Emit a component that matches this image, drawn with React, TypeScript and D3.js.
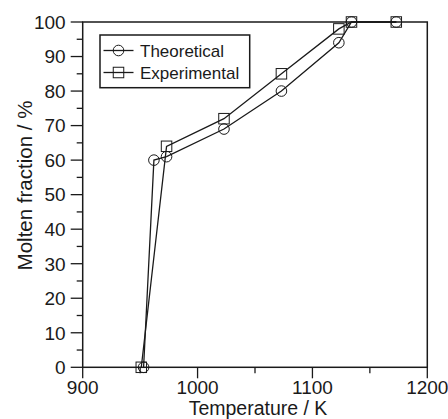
import React from "react";
import * as d3 from "d3";

const theoT = [953, 962, 973, 1023, 1073, 1123, 1134, 1173];
const theoV = [0, 60, 61, 69, 80, 94, 100, 100];
const expT = [951, 973, 1023, 1073, 1123, 1134, 1173];
const expV = [0, 64, 72, 85, 98, 100, 100];
const xMajor = [900, 1000, 1100, 1200];
const xMinor = [950, 1050, 1150];
const yMajor = [0, 10, 20, 30, 40, 50, 60, 70, 80, 90, 100];
const yMinor = [5, 15, 25, 35, 45, 55, 65, 75, 85, 95];
const legendLabels = ["Theoretical", "Experimental"];

const W = 448, H = 419;
const L = 82.7, R = 427.3, T = 22, B = 367.3;
const FONT = "Liberation Sans, Arial, sans-serif";
const INK = "#1a1a1a";

export default function App() {
  const x = d3.scaleLinear().domain([900, 1200]).range([L, R]);
  const y = d3.scaleLinear().domain([0, 100]).range([B, T]);
  const line = d3.line<[number, number]>().x(d => x(d[0])).y(d => y(d[1]));
  const theo: [number, number][] = theoT.map((t, i) => [t, theoV[i]]);
  const exp: [number, number][] = expT.map((t, i) => [t, expV[i]]);
  const r = 5.3;
  const s = 10.5;
  const circle = (cx: number, cy: number, k: string) => (
    <circle key={k} cx={cx} cy={cy} r={r} fill="none" stroke={INK} strokeWidth={1} />
  );
  const square = (cx: number, cy: number, k: string) => (
    <rect key={k} x={cx - s / 2} y={cy - s / 2} width={s} height={s} fill="none" stroke={INK} strokeWidth={1} />
  );
  return (
    <div style={{ position: "fixed", left: 0, top: 0 }}>
      <svg width={W} height={H} style={{ display: "block", background: "#fff" }}>
        <rect x={0} y={0} width={W} height={H} fill="#fff" />
        {/* frame */}
        <rect x={L} y={T} width={R - L} height={B - T} fill="none" stroke={INK} strokeWidth={1.5} />
        {/* y ticks */}
        {yMajor.map(v => (
          <g key={"ym" + v}>
            <line x1={L - 12} x2={L} y1={y(v)} y2={y(v)} stroke={INK} strokeWidth={1.3} />
            <text x={L - 17} y={y(v) + 6.8} textAnchor="end" fontFamily={FONT} fontSize={19} fill={INK}>{v}</text>
          </g>
        ))}
        {yMinor.map(v => (
          <line key={"yn" + v} x1={L - 6} x2={L} y1={y(v)} y2={y(v)} stroke={INK} strokeWidth={1.3} />
        ))}
        {/* x ticks */}
        {xMajor.map(v => (
          <g key={"xm" + v}>
            <line x1={x(v)} x2={x(v)} y1={B} y2={B + 11} stroke={INK} strokeWidth={1.3} />
            <text x={x(v)} y={393.5} textAnchor="middle" fontFamily={FONT} fontSize={19} fill={INK}>{v}</text>
          </g>
        ))}
        {xMinor.map(v => (
          <line key={"xn" + v} x1={x(v)} x2={x(v)} y1={B} y2={B + 6} stroke={INK} strokeWidth={1.3} />
        ))}
        {/* axis titles */}
        <text x={258} y={415} textAnchor="middle" fontFamily={FONT} fontSize={19.5} fill={INK}>Temperature / K</text>
        <text transform={`translate(31.5,185.5) rotate(-90)`} textAnchor="middle" fontFamily={FONT} fontSize={20.5} fill={INK}>Molten fraction / %</text>
        {/* lines */}
        <path d={line(theo) || ""} fill="none" stroke={INK} strokeWidth={1.3} />
        <path d={line(exp) || ""} fill="none" stroke={INK} strokeWidth={1.3} />
        {theo.map((d, i) => circle(x(d[0]), y(d[1]), "c" + i))}
        {exp.map((d, i) => square(x(d[0]), y(d[1]), "s" + i))}
        {/* legend */}
        <rect x={100} y={35} width={149.7} height={52.7} fill="#fff" stroke={INK} strokeWidth={1.5} />
        {legendLabels.map((lab, i) => {
          const ly = 50.5 + i * 22;
          return (
            <g key={lab}>
              <line x1={103.5} x2={133.5} y1={ly} y2={ly} stroke={INK} strokeWidth={1.3} />
              {i === 0 ? circle(118.5, ly, "lc") : square(118.5, ly, "ls")}
              <text x={140} y={ly + 6} fontFamily={FONT} fontSize={17} fill={INK}>{lab}</text>
            </g>
          );
        })}
      </svg>
    </div>
  );
}
